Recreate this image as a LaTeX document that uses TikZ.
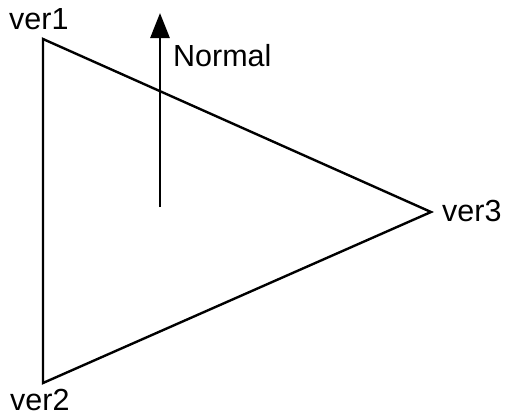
\documentclass[tikz,border=0pt]{standalone}
\usepackage{fontspec}
\setmainfont{Liberation Sans}
\usetikzlibrary{arrows.meta}
\begin{document}
\begin{tikzpicture}[
    x=1pt,y=-1pt,
    edge/.style={line width=2.4pt,line join=miter},
    normalvec/.style={line width=2.8pt,-{Triangle[length=25pt,width=19pt]}},
    lbl/.style={font=\fontsize{30.5}{34}\selectfont,inner sep=0pt,anchor=base west}
]
\useasboundingbox (0,0) rectangle (510,416);
\coordinate (V1) at (43,39);
\coordinate (V2) at (43,383);
\coordinate (V3) at (431,212);
\coordinate (N0) at (160,207);
\coordinate (N1) at (160,13);

\node[lbl] (L1) at (9,29)  {ver1};
\node[lbl] (L2) at (10,410) {ver2};
\node[lbl] (L3) at (442,221) {ver3};
\node[lbl] (LN) at (173,66) {Normal};

\draw[edge] (V1) -- (V2) -- (V3) -- cycle;
\draw[normalvec] (N0) -- (N1);
\end{tikzpicture}
\end{document}
